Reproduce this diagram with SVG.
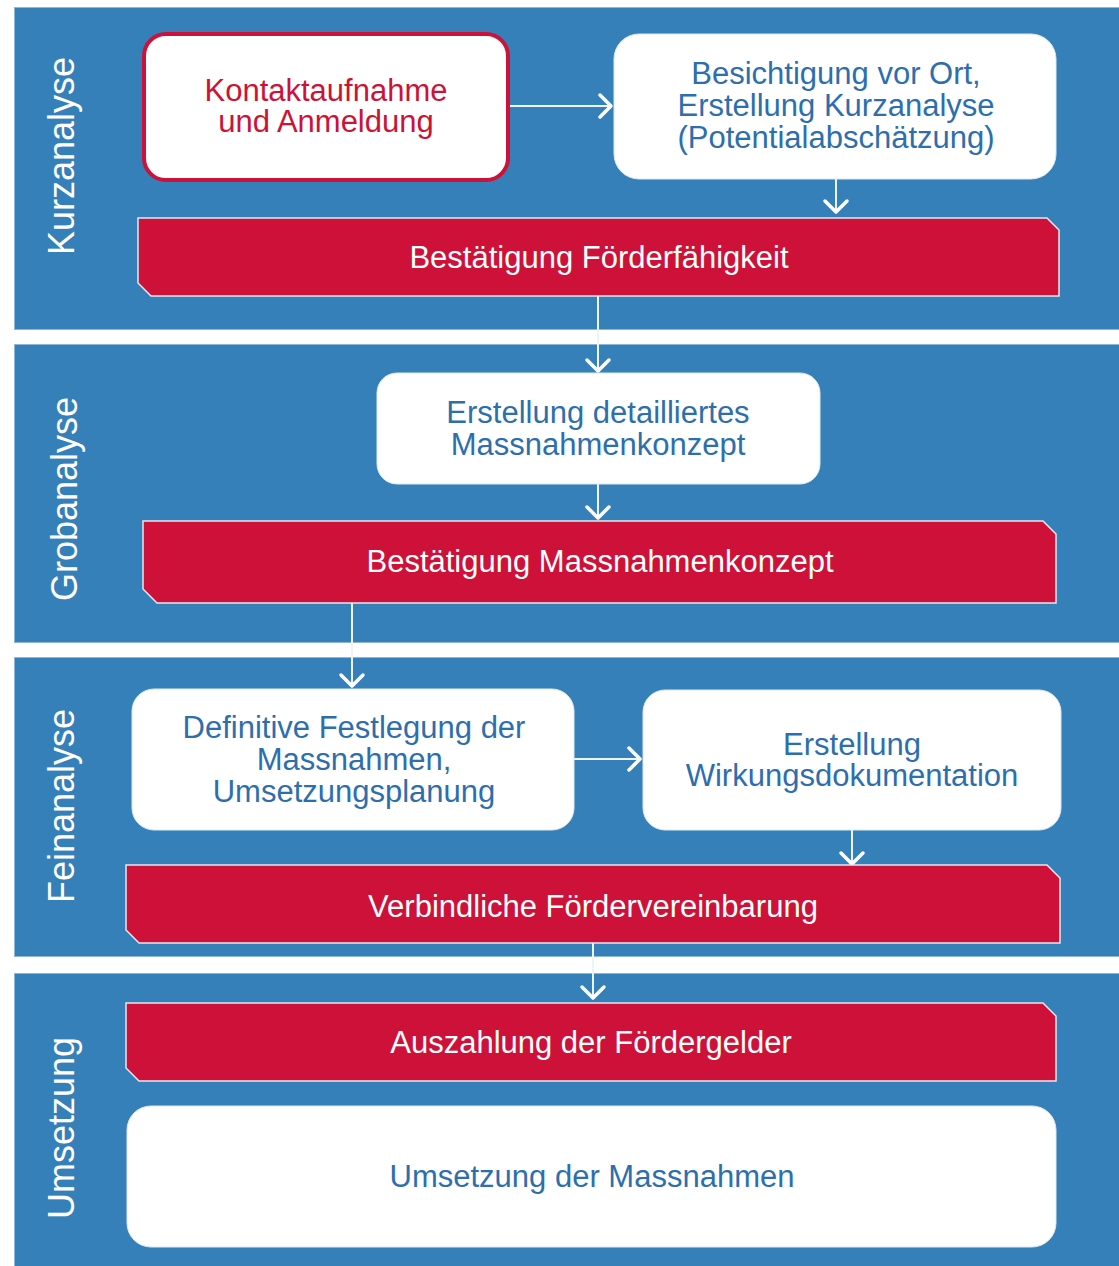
<svg xmlns="http://www.w3.org/2000/svg" width="1119" height="1266" viewBox="0 0 1119 1266">
  <defs>
    <style>
      .band { fill: #3580b9; stroke: #8fb6d8; stroke-width: 1; }
      .box { fill: #ffffff; stroke: #dce8f3; stroke-width: 1; }
      .banner { fill: #cd1138; stroke: #e3e8ee; stroke-width: 1.5; }
      .lane { font-family: "Liberation Sans", Arial, sans-serif; font-size: 36px; fill: #ffffff; text-anchor: middle; }
      .btxt { font-family: "Liberation Sans", Arial, sans-serif; font-size: 31px; fill: #2d6ead; text-anchor: middle; }
      .rtxt { font-family: "Liberation Sans", Arial, sans-serif; font-size: 31px; fill: #cc1236; text-anchor: middle; }
      .wtxt { font-family: "Liberation Sans", Arial, sans-serif; font-size: 31px; fill: #ffffff; text-anchor: middle; }
      .conn { stroke: #eef3f8; stroke-width: 2; fill: none; }
    </style>
    <marker id="chev" markerUnits="userSpaceOnUse" viewBox="0 0 28 28" markerWidth="28" markerHeight="28" refX="14" refY="14" orient="auto">
      <path d="M3,3 L14,14 L3,25" fill="none" stroke="#ffffff" stroke-width="3.5" stroke-linecap="round" stroke-linejoin="round"/>
    </marker>
  </defs>

  <rect width="1119" height="1266" fill="#ffffff"/>

  <g id="lanes">
    <g id="lane-kurzanalyse">
      <rect class="band" x="14.5" y="7.5" width="1106" height="322"/>
      <text class="lane" transform="translate(74,156) rotate(-90)">Kurzanalyse</text>
    </g>
    <g id="lane-grobanalyse">
      <rect class="band" x="14.5" y="344.5" width="1106" height="298"/>
      <text class="lane" transform="translate(77,499) rotate(-90)">Grobanalyse</text>
    </g>
    <g id="lane-feinanalyse">
      <rect class="band" x="14.5" y="657.5" width="1106" height="299"/>
      <text class="lane" transform="translate(74,806) rotate(-90)">Feinanalyse</text>
    </g>
    <g id="lane-umsetzung">
      <rect class="band" x="14.5" y="973.5" width="1106" height="294"/>
      <text class="lane" transform="translate(74,1128) rotate(-90)">Umsetzung</text>
    </g>
  </g>

  <g id="connectors">
    <path class="conn" d="M508,106 L611,106" marker-end="url(#chev)"/>
    <path class="conn" d="M836,179 L836,212" marker-end="url(#chev)"/>
    <path class="conn" d="M598,296 L598,371" marker-end="url(#chev)"/>
    <path class="conn" d="M598,484 L598,518" marker-end="url(#chev)"/>
    <path class="conn" d="M352,603 L352,686" marker-end="url(#chev)"/>
    <path class="conn" d="M574,759 L640,759" marker-end="url(#chev)"/>
    <path class="conn" d="M852,830 L852,864" marker-end="url(#chev)"/>
    <path class="conn" d="M593,943 L593,998" marker-end="url(#chev)"/>
  </g>

  <g id="n-kontakt">
    <rect x="144" y="34" width="364" height="146" rx="22" ry="22" fill="#ffffff" stroke="#cd1138" stroke-width="4"/>
    <text class="rtxt" x="326" y="101">Kontaktaufnahme</text>
    <text class="rtxt" x="326" y="132">und Anmeldung</text>
  </g>

  <g id="n-besichtigung">
    <rect class="box" x="614" y="34" width="442" height="145" rx="25" ry="25"/>
    <text class="btxt" x="836" y="84">Besichtigung vor Ort,</text>
    <text class="btxt" x="836" y="116">Erstellung Kurzanalyse</text>
    <text class="btxt" x="836" y="148">(Potentialabschätzung)</text>
  </g>

  <g id="n-foerderfaehigkeit">
    <path class="banner" d="M138,218 L1047,218 L1059,230 L1059,296 L151,296 L138,283 Z"/>
    <text class="wtxt" x="599" y="268">Bestätigung Förderfähigkeit</text>
  </g>

  <g id="n-massnahmenkonzept">
    <rect class="box" x="377" y="373" width="443" height="111" rx="20" ry="20"/>
    <text class="btxt" x="598" y="423">Erstellung detailliertes</text>
    <text class="btxt" x="598" y="455">Massnahmenkonzept</text>
  </g>

  <g id="n-bestaetigung-konzept">
    <path class="banner" d="M143,521 L1043,521 L1056,534 L1056,603 L157,603 L143,589 Z"/>
    <text class="wtxt" x="600" y="572">Bestätigung Massnahmenkonzept</text>
  </g>

  <g id="n-festlegung">
    <rect class="box" x="132" y="689" width="442" height="141" rx="22" ry="22"/>
    <text class="btxt" x="354" y="738">Definitive Festlegung der</text>
    <text class="btxt" x="354" y="770">Massnahmen,</text>
    <text class="btxt" x="354" y="802">Umsetzungsplanung</text>
  </g>

  <g id="n-wirkungsdoku">
    <rect class="box" x="643" y="690" width="418" height="140" rx="22" ry="22"/>
    <text class="btxt" x="852" y="755">Erstellung</text>
    <text class="btxt" x="852" y="786">Wirkungsdokumentation</text>
  </g>

  <g id="n-foerdervereinbarung">
    <path class="banner" d="M126,865 L1047,865 L1060,878 L1060,943 L139,943 L126,930 Z"/>
    <text class="wtxt" x="593" y="917">Verbindliche Fördervereinbarung</text>
  </g>

  <g id="n-auszahlung">
    <path class="banner" d="M126,1003 L1043,1003 L1056,1016 L1056,1081 L139,1081 L126,1068 Z"/>
    <text class="wtxt" x="591" y="1053">Auszahlung der Fördergelder</text>
  </g>

  <g id="n-umsetzung">
    <rect class="box" x="127" y="1106" width="929" height="141" rx="24" ry="24"/>
    <text class="btxt" x="592" y="1187">Umsetzung der Massnahmen</text>
  </g>
</svg>
